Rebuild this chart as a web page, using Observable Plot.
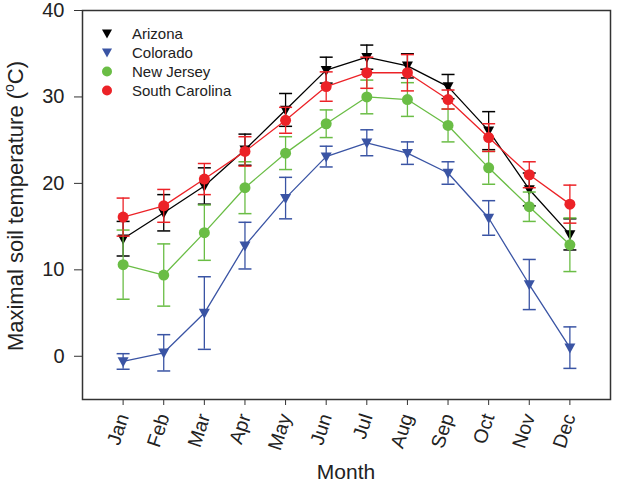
<!DOCTYPE html>
<html>
<head>
<meta charset="utf-8">
<script src="https://cdn.jsdelivr.net/npm/d3@7"></script>
<script src="https://cdn.jsdelivr.net/npm/@observablehq/plot@0.6"></script>
<style>
  html, body { margin: 0; padding: 0; background: white; }
</style>
</head>
<body>
<div id="chart"></div>
<script>
const monthLabels = ["Jan","Feb","Mar","Apr","May","Jun","Jul","Aug","Sep","Oct","Nov","Dec"];
const states = ["Arizona","Colorado","New Jersey","South Carolina"];
const colors = ["#000000","#3a54a4","#6abd45","#ec2227"];
const shapes = ["tri","tri","circle","circle"];

const arizonaMean = [13.6, 16.6, 19.7, 23.9, 28.5, 33.1, 34.6, 33.6, 31.2, 26.1, 19.3, 14.1];
const arizonaErr  = [2.0, 2.1, 2.1, 1.8, 1.9, 1.5, 1.4, 1.4, 1.4, 2.2, 1.9, 1.8];
const coloradoMean = [-0.6, 0.4, 5.0, 12.8, 18.3, 23.1, 24.7, 23.5, 21.2, 16.0, 8.3, 1.0];
const coloradoErr  = [0.9, 2.1, 4.2, 2.7, 2.4, 1.2, 1.5, 1.3, 1.3, 2.0, 2.9, 2.4];
const newJerseyMean = [10.6, 9.4, 14.3, 19.5, 23.5, 26.9, 30.0, 29.7, 26.7, 21.8, 17.3, 12.9];
const newJerseyErr  = [4.0, 3.6, 3.2, 3.0, 1.9, 1.6, 1.95, 1.95, 1.9, 1.9, 1.7, 3.1];
const southCarolinaMean = [16.1, 17.4, 20.5, 23.7, 27.3, 31.2, 32.8, 32.8, 29.7, 25.3, 21.0, 17.6];
const southCarolinaErr  = [2.2, 1.9, 1.8, 1.7, 1.5, 1.7, 1.8, 2.1, 1.1, 1.6, 1.5, 2.2];

const yTicks = [0, 10, 20, 30, 40];

const means = [arizonaMean, coloradoMean, newJerseyMean, southCarolinaMean];
const errs = [arizonaErr, coloradoErr, newJerseyErr, southCarolinaErr];

const triDown = {
  draw(ctx) {
    ctx.moveTo(-5.5, -4.2);
    ctx.lineTo(5.5, -4.2);
    ctx.lineTo(0, 5.8);
    ctx.closePath();
  }
};
const cap = {
  draw(ctx) {
    ctx.moveTo(-6.5, 0);
    ctx.lineTo(6.5, 0);
  }
};

const marks = [];
states.forEach((s, i) => {
  const rows = monthLabels.map((m, j) => ({month: j + 1, mean: means[i][j], err: errs[i][j]}));
  const c = colors[i];
  marks.push(Plot.ruleX(rows, {x: "month", y1: d => d.mean - d.err, y2: d => d.mean + d.err, stroke: c, strokeWidth: 1.3}));
  marks.push(Plot.dot(rows, {x: "month", y: d => d.mean + d.err, symbol: cap, stroke: c, fill: "none", strokeWidth: 1.5}));
  marks.push(Plot.dot(rows, {x: "month", y: d => d.mean - d.err, symbol: cap, stroke: c, fill: "none", strokeWidth: 1.5}));
  marks.push(Plot.line(rows, {x: "month", y: "mean", stroke: c, strokeWidth: 1.3}));
  if (shapes[i] === "tri") {
    marks.push(Plot.dot(rows, {x: "month", y: "mean", symbol: triDown, fill: c, stroke: "none"}));
  } else {
    marks.push(Plot.dot(rows, {x: "month", y: "mean", r: 5.5, fill: c, stroke: "none"}));
  }
});

const plot = Plot.plot({
  width: 640,
  height: 483,
  marginLeft: 82,
  marginRight: 30,
  marginTop: 10,
  marginBottom: 84,
  style: {fontFamily: "'Liberation Sans', Arial, sans-serif", background: "white", color: "#222"},
  x: {domain: [0, 13]},
  y: {domain: [-5, 40]},
  marks: [
    Plot.axisY({ticks: yTicks, tickSize: 8, tickPadding: 10, fontSize: 20, label: null, stroke: "#333"}),
    Plot.axisX({ticks: monthLabels.map((m, j) => j + 1), tickFormat: d => monthLabels[d - 1], tickSize: 6, tickPadding: 9, tickRotate: -72, fontSize: 19.5, label: null, stroke: "#333"}),
    ...marks,
    Plot.frame({stroke: "#333", strokeWidth: 1.5})
  ]
});

document.getElementById("chart").appendChild(plot);

const svg = d3.select(plot);
// Y axis label with superscript
const yl = svg.append("text")
  .attr("transform", "translate(23,206) rotate(-90)")
  .attr("text-anchor", "middle")
  .attr("font-size", 22)
  .attr("fill", "#222");
yl.append("tspan").text("Maximal soil temperature (");
yl.append("tspan").text("o").attr("font-size", 14).attr("dy", -9);
yl.append("tspan").text("C)").attr("dy", 9);

// X axis label
svg.append("text")
  .attr("x", 346).attr("y", 479)
  .attr("text-anchor", "middle")
  .attr("font-size", 21)
  .attr("fill", "#222")
  .text("Month");

// Legend
const lg = svg.append("g").attr("text-anchor", "start");
states.forEach((s, i) => {
  const y = 33.5 + i * 19;
  if (shapes[i] === "tri") {
    lg.append("path").attr("d", "M-5,-4L5,-4L0,5Z").attr("transform", `translate(107,${y})`).attr("fill", colors[i]);
  } else {
    lg.append("circle").attr("cx", 107).attr("cy", y).attr("r", 5).attr("fill", colors[i]);
  }
  lg.append("text").attr("x", 132).attr("y", y).attr("dy", "0.35em").attr("font-size", 15).attr("text-anchor", "start").attr("fill", "#222").text(s);
});
</script>
</body>
</html>
